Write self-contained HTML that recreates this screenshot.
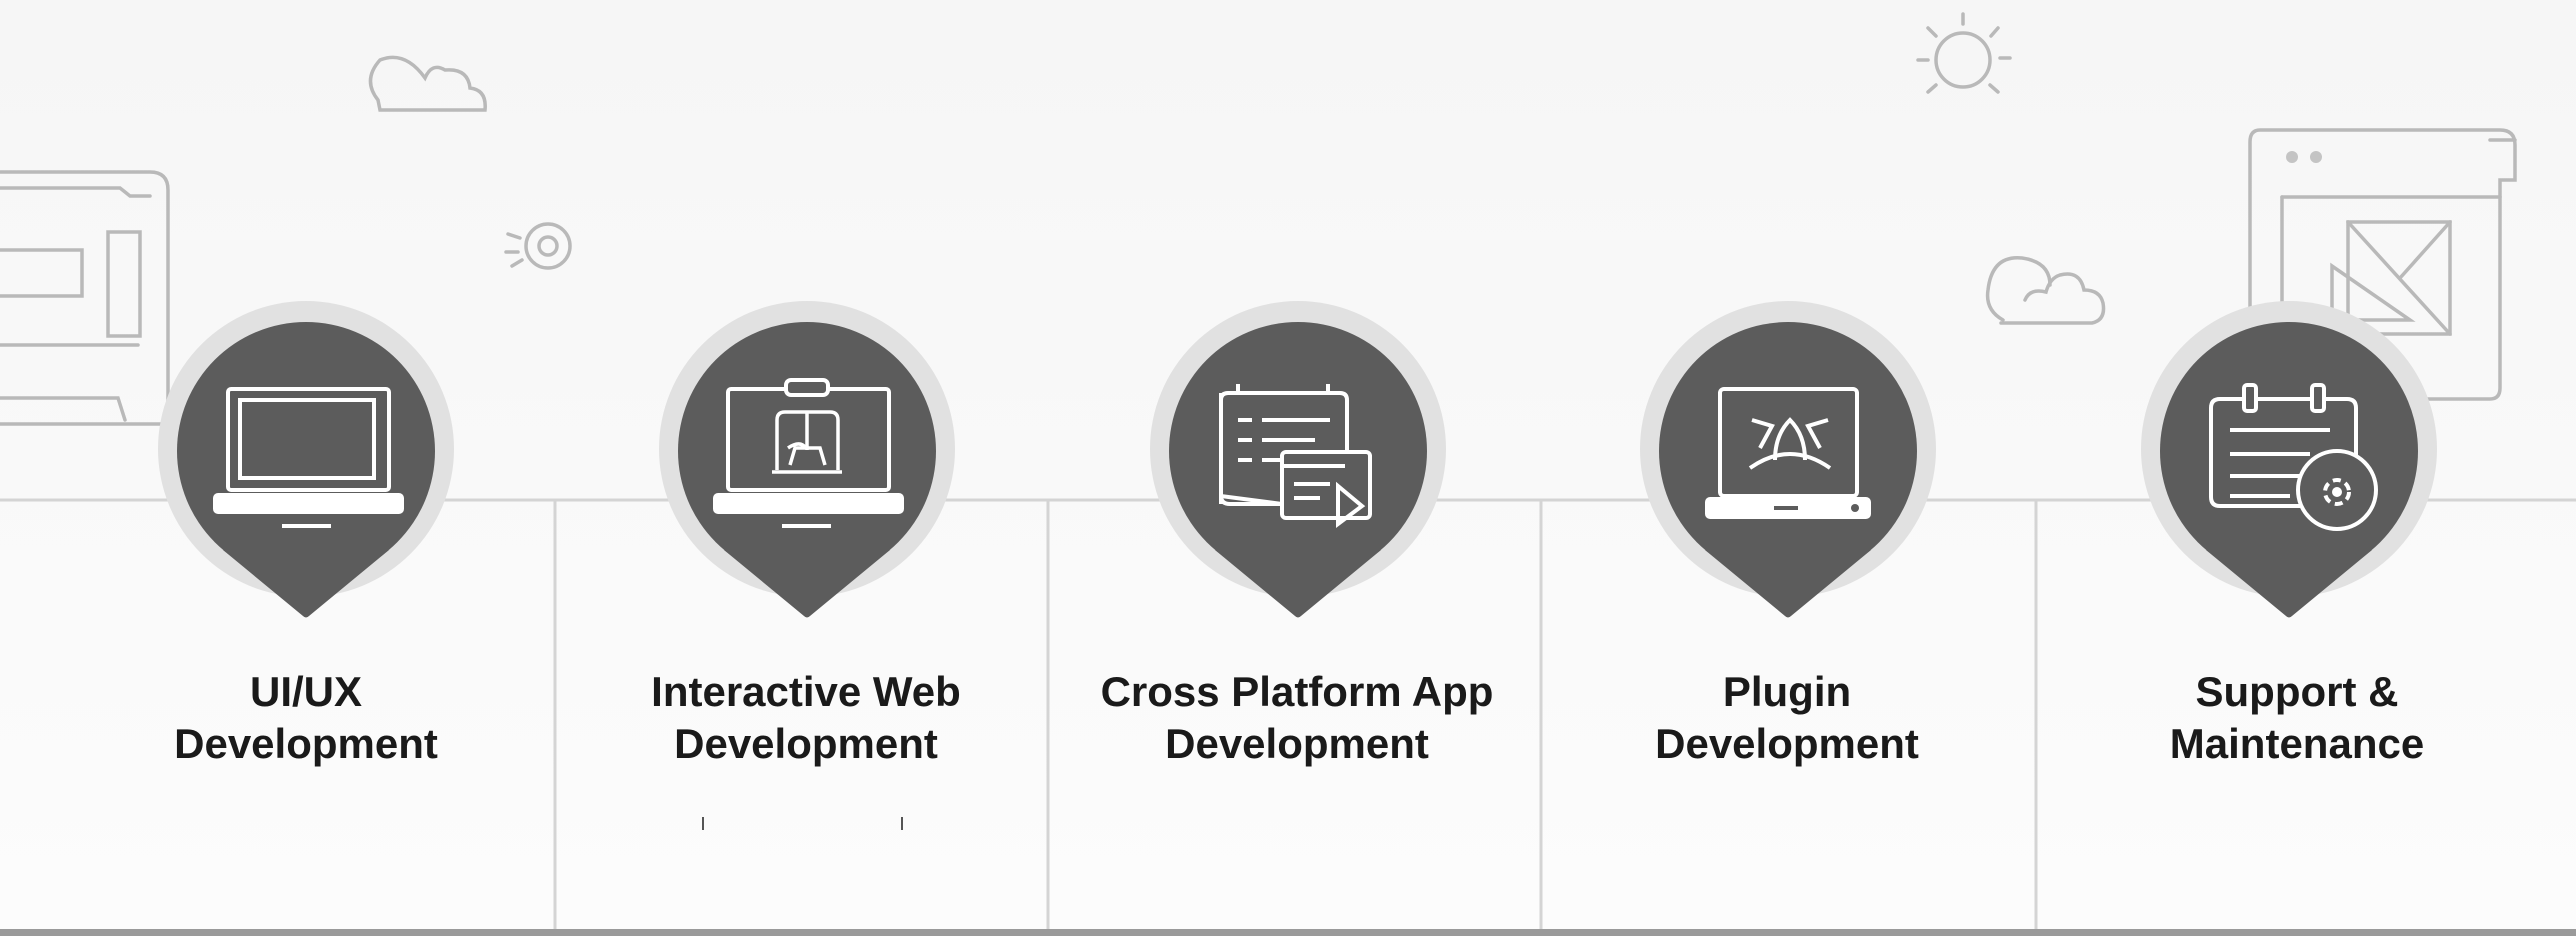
<!DOCTYPE html>
<html><head><meta charset="utf-8"><style>
html,body{margin:0;padding:0;width:2576px;height:936px;overflow:hidden;background:#f8f8f8}
svg{display:block}
text{font-family:"Liberation Sans",sans-serif;font-weight:700;fill:#1a1a1a;font-size:42px;text-anchor:middle}
</style></head><body>
<svg width="2576" height="936" viewBox="0 0 2576 936" xmlns="http://www.w3.org/2000/svg">
<defs>
<linearGradient id="bg" x1="0" y1="0" x2="0" y2="1"><stop offset="0" stop-color="#f6f6f6"/><stop offset="1" stop-color="#fcfcfc"/></linearGradient>
<g id="pin">
<circle cx="0" cy="449" r="148" fill="#e1e1e1"/>
<circle cx="0" cy="451" r="129" fill="#5c5c5c"/>
<path d="M-83 550 L-3 616 Q0 619 3 616 L83 550 Z" fill="#5c5c5c"/>
</g>
<g id="laptop" fill="none" stroke="#fff" stroke-width="4">
<rect x="-79" y="389" width="161" height="101" rx="3"/>
<rect x="-92" y="495" width="187" height="17" rx="3" fill="#fff"/>
<line x1="-25" y1="526" x2="24" y2="526"/>
</g>
</defs>
<rect width="2576" height="936" fill="url(#bg)"/>
<!-- grid lines -->
<g stroke="#d4d4d4" stroke-width="3" fill="none">
<line x1="0" y1="500" x2="2576" y2="500"/>
<line x1="555" y1="500" x2="555" y2="930"/>
<line x1="1048" y1="500" x2="1048" y2="930"/>
<line x1="1541" y1="500" x2="1541" y2="930"/>
<line x1="2036" y1="500" x2="2036" y2="930"/>
</g>
<rect x="0" y="929" width="2576" height="7" fill="#9a9a9a"/>
<g stroke="#555" stroke-width="2"><line x1="703" y1="817" x2="703" y2="830"/><line x1="902" y1="817" x2="902" y2="830"/></g>
<!-- decorations -->
<g fill="none" stroke="#b9b9b9" stroke-width="3.5" stroke-linecap="round">
<path d="M380 110 L485 110 Q487 90 470 88 Q468 68 445 70 Q432 62 425 78 Q405 50 380 60 Q362 80 378 100 Z"/>
<circle cx="548" cy="246" r="22"/><circle cx="548" cy="246" r="9"/>
<line x1="508" y1="234" x2="520" y2="238"/><line x1="506" y1="252" x2="518" y2="252"/><line x1="512" y1="266" x2="522" y2="260"/>
<path d="M0 172 L150 172 Q168 172 168 190 L168 420 Q168 424 160 424 L0 424"/>
<path d="M0 188 L120 188 L130 196 L150 196"/>
<rect x="-10" y="250" width="92" height="46"/>
<rect x="108" y="232" width="32" height="104"/>
<path d="M0 345 L138 345"/><path d="M0 398 L118 398 L125 420"/>
<circle cx="1963" cy="60" r="27"/>
<line x1="1963" y1="14" x2="1963" y2="24"/><line x1="1928" y1="28" x2="1936" y2="36"/><line x1="1998" y1="28" x2="1991" y2="36"/>
<line x1="1918" y1="60" x2="1928" y2="60"/><line x1="2000" y1="58" x2="2010" y2="58"/><line x1="1928" y1="92" x2="1936" y2="85"/><line x1="1998" y1="92" x2="1990" y2="85"/>
<path d="M2001 323 L2092 323 Q2106 320 2103 303 Q2100 290 2084 290 Q2080 270 2060 275 Q2050 278 2046 292 Q2030 288 2025 300"/>
<path d="M2003 320 Q1985 310 1988 290 Q1992 255 2022 258 Q2050 262 2050 285"/>
<path d="M2260 130 L2500 130 Q2515 130 2515 145 L2515 180 L2500 180 L2500 388 Q2500 399 2490 399 L2263 399 Q2250 399 2250 388 L2250 142 Q2250 130 2260 130"/>
<line x1="2490" y1="140" x2="2515" y2="140"/>
<path d="M2282 197 L2500 197"/><path d="M2282 197 L2282 315"/>
<rect x="2348" y="222" width="102" height="112"/>
<path d="M2348 222 L2450 334 M2450 222 L2400 278"/>
<path d="M2332 266 L2332 320 L2410 320 Z"/>
</g>
<g fill="#c4c4c4"><circle cx="2292" cy="157" r="6"/><circle cx="2316" cy="157" r="6"/></g>
<!-- pins -->
<use href="#pin" x="306"/><use href="#pin" x="807"/><use href="#pin" x="1298"/><use href="#pin" x="1788"/><use href="#pin" x="2289"/>
<!-- icon 1 -->
<use href="#laptop" x="307"/>
<rect x="240" y="400" width="134" height="78" fill="none" stroke="#fff" stroke-width="4"/>
<!-- icon 2 -->
<use href="#laptop" x="807"/>
<rect x="786" y="380" width="42" height="15" rx="5" fill="#5c5c5c" stroke="#fff" stroke-width="4"/>
<g fill="none" stroke="#fff" stroke-width="3.5">
<path d="M777 470 L777 420 Q777 412 785 412 L830 412 Q838 412 838 420 L838 470"/>
<line x1="807" y1="412" x2="807" y2="450"/><line x1="772" y1="472" x2="842" y2="472"/>
<path d="M790 465 L795 448 L820 448 L825 465 M788 448 Q800 440 806 448"/>
</g>
<!-- icon 3 -->
<g fill="none" stroke="#fff" stroke-width="4">
<path d="M1221 400 Q1221 393 1228 393 L1340 393 Q1347 393 1347 400 L1347 452 M1282 504 L1230 504 Q1221 504 1221 496 Z"/>
<line x1="1221" y1="393" x2="1221" y2="504"/>
<line x1="1238" y1="393" x2="1238" y2="384"/><line x1="1328" y1="393" x2="1328" y2="384"/>
<line x1="1238" y1="420" x2="1252" y2="420"/><line x1="1262" y1="420" x2="1330" y2="420"/>
<line x1="1238" y1="440" x2="1252" y2="440"/><line x1="1262" y1="440" x2="1315" y2="440"/>
<line x1="1238" y1="460" x2="1252" y2="460"/><line x1="1262" y1="460" x2="1290" y2="460"/>
<rect x="1282" y="452" width="88" height="66" rx="4" fill="#5c5c5c"/>
<line x1="1282" y1="466" x2="1345" y2="466"/>
<line x1="1294" y1="484" x2="1330" y2="484"/><line x1="1294" y1="498" x2="1320" y2="498"/>
<path d="M1338 486 L1338 524 L1362 506 Z"/>
</g>
<!-- icon 4 -->
<g fill="none" stroke="#fff" stroke-width="4">
<rect x="1720" y="389" width="137" height="107" rx="4"/>
<rect x="1707" y="499" width="162" height="18" rx="3" fill="#fff"/>
<path d="M1775 460 Q1775 435 1790 420 Q1805 435 1805 460"/>
<path d="M1750 468 Q1790 440 1830 468"/>
<path d="M1752 420 L1772 426 L1760 448 M1828 420 L1808 426 L1820 448"/>
</g>
<rect x="1774" y="506" width="24" height="4" fill="#5c5c5c"/><circle cx="1855" cy="508" r="4" fill="#5c5c5c"/>
<!-- icon 5 -->
<g fill="none" stroke="#fff" stroke-width="4">
<path d="M2300 506 L2220 506 Q2211 506 2211 497 L2211 408 Q2211 399 2220 399 L2347 399 Q2356 399 2356 408 L2356 457"/>
<rect x="2244" y="385" width="12" height="26" rx="3" fill="#5c5c5c"/>
<rect x="2312" y="385" width="12" height="26" rx="3" fill="#5c5c5c"/>
<line x1="2230" y1="430" x2="2330" y2="430"/><line x1="2230" y1="454" x2="2310" y2="454"/>
<line x1="2230" y1="476" x2="2300" y2="476"/><line x1="2230" y1="496" x2="2290" y2="496"/>
<circle cx="2337" cy="490" r="39" fill="#5c5c5c"/>
<circle cx="2337" cy="492" r="12" stroke-dasharray="8 5"/><circle cx="2337" cy="492" r="3" fill="#fff"/>
</g>
<!-- labels -->
<text x="306" y="706">UI/UX</text><text x="306" y="758">Development</text>
<text x="806" y="706">Interactive Web</text><text x="806" y="758">Development</text>
<text x="1297" y="706">Cross Platform App</text><text x="1297" y="758">Development</text>
<text x="1787" y="706">Plugin</text><text x="1787" y="758">Development</text>
<text x="2297" y="706">Support &amp;</text><text x="2297" y="758">Maintenance</text>
</svg>
</body></html>
